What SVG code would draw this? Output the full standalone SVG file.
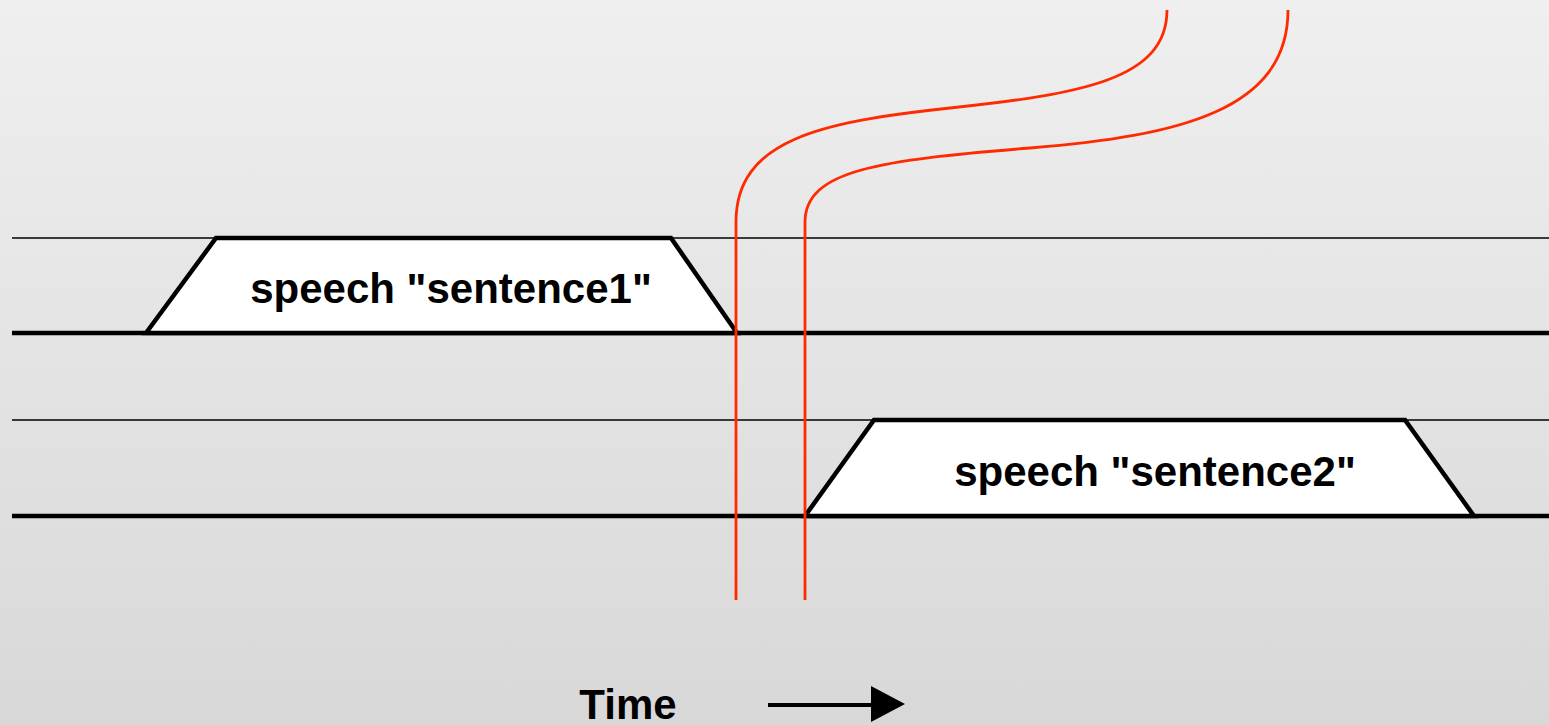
<svg xmlns="http://www.w3.org/2000/svg" width="1549" height="725" viewBox="0 0 1549 725">
  <defs>
    <linearGradient id="bg" x1="0" y1="0" x2="0" y2="1">
      <stop offset="0" stop-color="#efefef"/>
      <stop offset="1" stop-color="#d8d8d8"/>
    </linearGradient>
    <style>
      .thin { stroke: #000; stroke-width: 1.5; fill: none; }
      .thick { stroke: #000; stroke-width: 4.5; fill: none; }
      .slot { fill: #fff; stroke: #000; stroke-width: 4.5; stroke-linejoin: miter; }
      .label { font-family: "Liberation Sans", Arial, sans-serif; font-weight: bold; font-size: 42px; fill: #000; }
      .marker { stroke: #ff2a00; stroke-width: 2.8; fill: none; }
    </style>
  </defs>
  <rect width="1549" height="725" fill="url(#bg)"/>

  <!-- track rails -->
  <g id="tracks">
    <line class="thin" x1="12" y1="238" x2="1549" y2="238"/>
    <line class="thick" x1="12" y1="333" x2="1549" y2="333"/>
    <line class="thin" x1="12" y1="420" x2="1549" y2="420"/>
    <line class="thick" x1="12" y1="516" x2="1549" y2="516"/>
  </g>

  <g id="speech1">
    <polygon class="slot" points="146,333 216,238 671,238 737,333"/>
    <text class="label" x="451" y="303" text-anchor="middle">speech "sentence1"</text>
  </g>

  <g id="speech2">
    <polygon class="slot" points="805,516 874,420 1405,420 1474,516"/>
    <text class="label" x="1155" y="486" text-anchor="middle">speech "sentence2"</text>
  </g>

  <!-- event markers -->
  <g id="connectors">
    <path class="marker" d="M736,600 L736,222 C736,140 820,122 950,108 C1080,94 1167,80 1167,10"/>
    <path class="marker" d="M805,600 L805,222 C805,170 880,160 1030,148 C1180,136 1288,110 1288,10"/>
  </g>

  <g id="time-axis">
    <text class="label" x="628" y="719" text-anchor="middle">Time</text>
    <line x1="768" y1="705" x2="875" y2="705" stroke="#000" stroke-width="4"/>
    <polygon points="871,686 905,704 871,722" fill="#000"/>
  </g>
</svg>
